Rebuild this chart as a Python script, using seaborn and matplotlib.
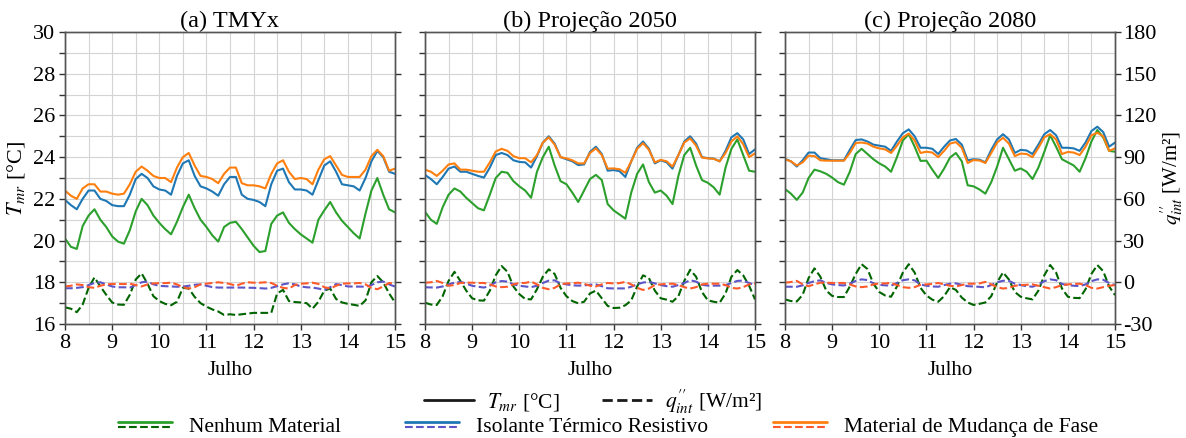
import numpy as np
import pandas as pd
import matplotlib
matplotlib.use("Agg")
import matplotlib.pyplot as plt
import seaborn as sns
from matplotlib.lines import Line2D
from matplotlib.legend_handler import HandlerBase
from matplotlib.ticker import MultipleLocator

# ---------------- data (3-hourly, 8 to 15 July) ----------------
time = np.arange(8.0, 15.0001, 0.125)

materials = ["Nenhum Material", "Isolante Térmico Resistivo", "Material de Mudança de Fase"]
scenarios = ["(a) TMYx", "(b) Projeção 2050", "(c) Projeção 2080"]

# (a) TMYx - radiant mean temperature [°C]
tmr_a_none = [20.1, 19.7, 19.6, 20.7, 21.2, 21.5, 21.0, 20.65, 20.2, 19.95, 19.85, 20.5, 21.4, 22.0, 21.7, 21.2,
              20.85, 20.55, 20.3, 20.9, 21.6, 22.2, 21.55, 21.0, 20.65, 20.25, 19.95, 20.65, 20.85, 20.9, 20.55, 20.15,
              19.75, 19.45, 19.5, 20.8, 21.2, 21.35, 20.85, 20.55, 20.3, 20.1, 19.9, 21.0, 21.45, 21.85, 21.35, 20.95,
              20.65, 20.35, 20.1, 21.3, 22.4, 23.0, 22.2, 21.5, 21.35]
tmr_a_ins = [21.95, 21.7, 21.5, 22.0, 22.4, 22.4, 22.0, 21.9, 21.7, 21.65, 21.65, 22.2, 22.95, 23.2, 23.0, 22.6,
             22.45, 22.4, 22.2, 23.1, 23.7, 23.85, 23.1, 22.6, 22.5, 22.35, 22.15, 22.7, 23.05, 23.05, 22.2, 22.0,
             21.95, 21.85, 21.65, 22.7, 23.35, 23.45, 22.8, 22.45, 22.45, 22.4, 22.2, 22.9, 23.6, 23.8, 23.3, 22.7,
             22.65, 22.6, 22.4, 23.0, 23.8, 24.3, 24.0, 23.3, 23.2]
tmr_a_pcm = [22.4, 22.15, 22.0, 22.5, 22.7, 22.7, 22.35, 22.35, 22.25, 22.2, 22.25, 22.7, 23.3, 23.55, 23.35, 23.1,
             23.0, 23.0, 22.8, 23.5, 24.0, 24.2, 23.6, 23.1, 23.05, 22.95, 22.75, 23.2, 23.5, 23.5, 22.75, 22.65,
             22.65, 22.6, 22.5, 23.2, 23.7, 23.85, 23.3, 22.95, 23.0, 22.95, 22.7, 23.4, 23.9, 24.05, 23.6, 23.15,
             23.05, 23.05, 23.05, 23.4, 24.05, 24.35, 24.05, 23.35, 23.45]
# (a) TMYx - internal heat flux [W/m²]
q_a_none = [-18, -19, -21.5, -16, -4, 3.5, -3, -9, -14.5, -16, -16.2, -9, 2, 6.4, -1, -10,
            -13.5, -15.5, -16.5, -14, -4, -4.5, -10.5, -15, -17.5, -19.5, -21, -23.5, -23, -23.5, -23, -22.5,
            -22, -22, -22, -22, -8, -5.5, -13.5, -14.2, -14.5, -15, -19, -14, -6, -4.5, -12, -14.5,
            -15.5, -16.2, -17, -13, 0, 4.5, 0, -8, -14.5]
q_a_ins = [-4.3, -4.3, -4.0, -3.5, -2, -0.5, 0, -1.5, -3, -3.6, -3.6, -3.8, -2, 0, 0.5, -1.5,
           -2.6, -2.8, -3.0, -3.2, -3.1, -2.5, -1.8, -1.5, -2.5, -3.5, -3.8, -3.8, -3.8, -3.8, -3.8, -3.9,
           -4.0, -4.2, -4.5, -4.0, -2.8, -1.5, -0.7, -1.5, -3.0, -3.6, -3.8, -4.5, -5.5, -3.5, -1.3, -2,
           -3.0, -3.1, -3.1, -3.2, -2, 0, 0.5, -1.5, -3.1]
q_a_pcm = [-3, -2.5, -1.5, -2, -3.5, -4, -2.5, -1.5, -1.2, -1.2, -1.3, -1.0, -2.0, -3.0, -1.5, -0.8,
           -0.6, -0.6, -0.3, -1.5, -3.5, -4.5, -3.5, -1.5, -1.0, -0.5, 0, -0.5, -1.2, -2.5, -1.0, 0,
           -0.3, -0.3, 0, -0.5, -2.5, -4.0, -4.5, -2.0, -1.0, -0.8, -0.3, -1.2, -3.5, -4.5, -2.5, -1.0,
           -0.8, -0.8, -0.5, -1.5, -4.0, -5.0, -3.0, -0.5, -1.0]

# (b) Projeção 2050
tmr_b_none = [21.38, 21.0, 20.8, 21.6, 22.2, 22.5, 22.35, 22.05, 21.8, 21.55, 21.45, 22.2, 23.0, 23.3, 23.25, 22.85,
              22.6, 22.4, 22.05, 23.3, 24.0, 24.5, 23.6, 22.85, 22.7, 22.3, 21.85, 22.4, 22.95, 23.15, 22.9, 21.75,
              21.45, 21.25, 21.05, 22.3, 23.2, 23.65, 22.8, 22.3, 22.4, 22.15, 21.75, 23.1, 24.1, 24.45, 23.6, 22.9,
              22.77, 22.55, 22.2, 23.5, 24.4, 24.85, 24.1, 23.35, 23.3]
tmr_b_ins = [23.15, 22.95, 22.7, 23.05, 23.45, 23.55, 23.3, 23.3, 23.2, 23.1, 23.02, 23.5, 24.1, 24.2, 24.1, 23.85,
             23.77, 23.75, 23.5, 24.05, 24.7, 25.0, 24.65, 24.0, 23.9, 23.8, 23.62, 23.65, 24.25, 24.5, 24.15, 23.35,
             23.38, 23.33, 23.05, 23.8, 24.45, 24.75, 24.4, 23.7, 23.85, 23.75, 23.45, 24.1, 24.75, 25.0, 24.65, 24.0,
             23.95, 23.93, 23.8, 24.3, 24.95, 25.15, 24.85, 24.15, 24.37]
tmr_b_pcm = [23.4, 23.3, 23.1, 23.35, 23.65, 23.7, 23.4, 23.4, 23.35, 23.3, 23.3, 23.75, 24.27, 24.4, 24.3, 24.05,
             23.95, 23.95, 23.75, 24.1, 24.7, 24.95, 24.6, 24.0, 23.94, 23.85, 23.7, 23.7, 24.2, 24.42, 24.1, 23.45,
             23.46, 23.42, 23.25, 23.8, 24.4, 24.67, 24.35, 23.75, 23.87, 23.8, 23.55, 24.1, 24.7, 24.9, 24.55, 23.98,
             23.94, 23.92, 23.8, 24.2, 24.75, 25.0, 24.62, 24.0, 24.18]
q_b_none = [-14.7, -16, -16.3, -10, 1, 7.5, 1, -6, -11.5, -13, -13.2, -6, 5, 11.7, 7.5, -3,
            -8.5, -12, -12.3, -5, 4, 9.3, 6, -4, -10, -13.5, -15.1, -14, -8, -6, -11.5, -17,
            -18.5, -18.3, -16.5, -13, -3, 5, 3, -6, -11.5, -12.5, -14, -10, 1, 9, 4, -7,
            -13, -14, -14.7, -8, 4, 8.8, 5, -2.5, -12.3]
q_b_ins = [-3.6, -3.7, -3.8, -3.0, -1.5, -0.3, 0.3, -1.0, -2.5, -3.2, -3.8, -2.5, 0, 0.9, 0.5, -1.5,
           -2.5, -3.0, -3.5, -2.5, -0.5, 1.2, 1.4, -0.8, -1.5, -2.2, -2.4, -2.2, -1.8, -1.5, -2.8, -4.3,
           -4.4, -4.4, -4.4, -3.2, -1.5, -0.2, 0.3, -0.8, -2.0, -2.8, -3.2, -2.0, -0.5, 1.5, 0.5, -1.8,
           -2.4, -2.4, -2.4, -2.0, -0.5, 1.0, 1.2, -0.5, -2.0]
q_b_pcm = [-0.3, 0, 1.0, -0.5, -2.5, -2.0, -0.5, -0.3, -0.3, -0.5, -0.5, -1.5, -3.0, -3.5, -3.2, -1.5,
           -0.5, -0.5, 0.5, -1.5, -4.0, -5.0, -4.0, -1.5, -0.8, -0.7, -0.3, -1.0, -2.5, -3.0, -1.5, -0.5,
           -0.8, -0.6, 0.3, -1.5, -4.0, -5.5, -4.5, -2.0, -1.5, -1.2, -1.0, -2.0, -3.5, -4.5, -3.5, -1.5,
           -1.0, -1.0, -1.0, -2.0, -4.0, -4.5, -3.5, -1.5, -0.8]

# (c) Projeção 2080
tmr_c_none = [22.47, 22.25, 21.95, 22.3, 23.0, 23.4, 23.32, 23.2, 23.02, 22.8, 22.68, 23.3, 24.15, 24.4, 24.15, 23.9,
              23.7, 23.55, 23.3, 24.0, 24.8, 25.1, 24.5, 23.82, 23.83, 23.4, 23.0, 23.45, 23.98, 24.2, 23.8, 22.65,
              22.6, 22.45, 22.25, 22.8, 23.55, 24.45, 23.9, 23.35, 23.46, 23.3, 22.95, 23.5, 24.25, 25.05, 24.5, 23.9,
              23.75, 23.6, 23.3, 23.95, 24.75, 25.3, 24.95, 24.3, 24.26]
tmr_c_ins = [23.92, 23.8, 23.55, 23.85, 24.22, 24.22, 23.95, 23.9, 23.85, 23.85, 23.85, 24.35, 24.82, 24.85, 24.75, 24.6,
             24.55, 24.5, 24.3, 24.75, 25.15, 25.33, 25.0, 24.45, 24.45, 24.4, 24.15, 24.5, 24.8, 24.87, 24.6, 23.85,
             23.9, 23.88, 23.75, 24.35, 24.85, 25.1, 24.85, 24.2, 24.35, 24.32, 24.15, 24.6, 25.1, 25.3, 25.05, 24.45,
             24.45, 24.42, 24.3, 24.7, 25.25, 25.46, 25.2, 24.5, 24.7]
tmr_c_pcm = [23.89, 23.8, 23.6, 23.75, 24.07, 24.05, 23.85, 23.83, 23.83, 23.83, 23.83, 24.2, 24.68, 24.7, 24.65, 24.5,
             24.42, 24.37, 24.2, 24.55, 24.95, 25.13, 24.8, 24.2, 24.26, 24.22, 24.0, 24.3, 24.65, 24.72, 24.45, 23.72,
             23.86, 23.84, 23.72, 24.2, 24.7, 24.93, 24.65, 24.05, 24.17, 24.15, 24.0, 24.45, 24.95, 25.1, 24.85, 24.15,
             24.25, 24.22, 24.1, 24.5, 25.05, 25.17, 25.0, 24.3, 24.42]
q_c_none = [-12.3, -13.5, -13.8, -9, 3, 10, 4, -6, -9.8, -10.6, -10.6, -3, 6, 13, 9.5, -1,
            -7, -9.5, -10.4, -3, 7, 13, 7, -4, -9.5, -12.5, -14, -10, -3.5, -5.5, -11, -14.5,
            -16.3, -15.5, -14.5, -10, 0, 7.1, 2, -7, -10.4, -11.5, -12.3, -6, 5, 12.4, 7, -4.5,
            -10.4, -11.2, -11.4, -5, 6, 12.4, 8, -3, -9.2]
q_c_ins = [-3.2, -3.2, -3.2, -2.2, -0.5, 0.8, 1.4, -0.5, -1.5, -2.0, -2.3, -1.0, 1.0, 2.1, 1.6, -0.8,
           -1.8, -2.2, -2.4, -0.5, 1.5, 2.1, 1.4, -1.5, -2.5, -3.0, -3.2, -2.0, -1.0, -0.8, -1.8, -2.8,
           -3.0, -3.3, -3.6, -2.0, 0, 1.1, 1.0, -1.0, -2.0, -2.8, -3.2, -1.5, 0.8, 2.1, 1.5, -1.2,
           -2.0, -2.5, -2.7, -1.5, 0.8, 2.1, 1.8, -0.5, -2.0]
q_c_pcm = [-0.3, 0.2, 1.0, -1.5, -2.8, -1.5, -0.3, -0.3, -0.5, -0.5, -0.5, -1.5, -3.0, -3.5, -3.0, -1.5,
           -0.8, -0.8, -0.5, -2.0, -3.5, -4.0, -3.5, -1.8, -1.5, -1.2, -0.5, -1.5, -2.5, -3.0, -2.0, -1.0,
           -1.0, -0.8, 0.3, -1.5, -3.5, -4.5, -4.0, -2.5, -2.0, -1.8, -1.5, -2.5, -3.5, -4.5, -3.5, -2.0,
           -1.5, -1.2, -1.0, -2.0, -4.0, -4.5, -3.5, -2.5, -2.0]

tmr_series = {scenarios[0]: [tmr_a_none, tmr_a_ins, tmr_a_pcm],
              scenarios[1]: [tmr_b_none, tmr_b_ins, tmr_b_pcm],
              scenarios[2]: [tmr_c_none, tmr_c_ins, tmr_c_pcm]}
q_series = {scenarios[0]: [q_a_none, q_a_ins, q_a_pcm],
            scenarios[1]: [q_b_none, q_b_ins, q_b_pcm],
            scenarios[2]: [q_c_none, q_c_ins, q_c_pcm]}

rows = []
for sc in scenarios:
    for m, vals in zip(materials, tmr_series[sc]):
        for t, v in zip(time, vals):
            rows.append((sc, m, "Tmr", t, v))
    for m, vals in zip(materials, q_series[sc]):
        for t, v in zip(time, vals):
            rows.append((sc, m, "q", t, v))
df = pd.DataFrame(rows, columns=["scenario", "material", "var", "time", "value"])

solid_colors = {"Nenhum Material": "#2ca02c", "Isolante Térmico Resistivo": "#1f77b4",
                "Material de Mudança de Fase": "#ff7f0e"}
dash_colors = {"Nenhum Material": "#006400", "Isolante Térmico Resistivo": "#5b55c8",
               "Material de Mudança de Fase": "#ff5a2a"}

# ---------------- styling ----------------
sns.set_theme(style="white")
plt.rcParams["font.family"] = ["Liberation Serif", "DejaVu Serif"]
plt.rcParams["mathtext.fontset"] = "stix"
plt.rcParams["font.size"] = 15
plt.rcParams["axes.unicode_minus"] = False
plt.rcParams["text.color"] = "black"
plt.rcParams["axes.labelcolor"] = "black"

fig = plt.figure(figsize=(11.86, 4.38), dpi=100)
W, H = 1186, 438
lefts = [65, 425, 785]
aw, top, bot = 330, 32, 324

for i, sc in enumerate(scenarios):
    ax = fig.add_axes([lefts[i] / W, (H - bot) / H, aw / W, (bot - top) / H])
    ax2 = ax.twinx()
    sub = df[df.scenario == sc]
    sns.lineplot(data=sub[sub["var"] == "Tmr"], x="time", y="value", hue="material",
                 palette=solid_colors, lw=1.5, ax=ax, legend=False)
    sns.lineplot(data=sub[sub["var"] == "q"], x="time", y="value", hue="material",
                 palette=dash_colors, lw=1.5, ax=ax2, legend=False)
    for l in ax2.get_lines():
        l.set_linestyle("--")

    ax.set_xlim(8, 15)
    ax.set_ylim(16, 30)
    ax2.set_ylim(-30, 180)
    ax.xaxis.set_major_locator(MultipleLocator(1))
    ax.xaxis.set_minor_locator(MultipleLocator(0.5))
    ax.yaxis.set_major_locator(MultipleLocator(2))
    ax.yaxis.set_minor_locator(MultipleLocator(1))
    ax2.yaxis.set_major_locator(MultipleLocator(30))
    ax.grid(which="both", color="#d4d4d4", lw=0.8)
    ax.set_axisbelow(True)

    ax.tick_params(axis="both", which="major", direction="out", length=4, width=1,
                   color="#333333", labelcolor="black", labelsize=16, bottom=True, left=True, pad=3)
    ax.tick_params(axis="y", which="minor", direction="out", length=4, width=1,
                   color="#333333", left=True)
    ax.tick_params(axis="x", which="minor", length=0)
    ax2.tick_params(axis="y", direction="out", length=4, width=1, color="#333333",
                    labelcolor="black", labelsize=16, right=True, pad=2)
    for a in (ax, ax2):
        for s in a.spines.values():
            s.set_color("#555555")
            s.set_linewidth(1.0)

    ax.set_title(sc, fontsize=17.5, pad=3)
    ax.set_xlabel("Julho", fontsize=15, labelpad=6)
    ax.set_ylabel("")
    ax2.set_ylabel("")
    if i == 0:
        ax.set_ylabel("$T_{mr}$ [°C]", fontsize=16, labelpad=4)
    else:
        ax.tick_params(axis="y", labelleft=False)
    if i == 2:
        ax2.set_ylabel(r"$q_{int}^{\prime\prime}$ [W/m²]", fontsize=15, labelpad=1)
    else:
        ax2.tick_params(axis="y", labelright=False)


class PairHandler(HandlerBase):
    def create_artists(self, legend, orig_handle, xdescent, ydescent, width, height, fontsize, trans):
        hs, hd = orig_handle
        x0, x1 = -xdescent, -xdescent + width
        yc = -ydescent + height / 2
        off = height * 0.18
        l1 = Line2D([x0, x1], [yc + off, yc + off], color=hs.get_color(), lw=2, ls="-")
        l2 = Line2D([x0, x1], [yc - off, yc - off], color=hd.get_color(), lw=1.5, ls="--")
        l1.set_transform(trans)
        l2.set_transform(trans)
        return [l1, l2]


leg1 = fig.legend(handles=[Line2D([], [], color="k", lw=2), Line2D([], [], color="k", lw=2, ls="--")],
                  labels=["$T_{mr}$ [°C]", r"$q_{int}^{\prime\prime}$ [W/m²]"],
                  loc="center", bbox_to_anchor=(0.5, 1 - 402 / H), ncol=2, frameon=False,
                  fontsize=15.5, handlelength=2.3, columnspacing=2.0, handletextpad=0.6,
                  borderpad=0, borderaxespad=0)
pairs = [(Line2D([], [], color=solid_colors[m]), Line2D([], [], color=dash_colors[m])) for m in materials]
leg2 = fig.legend(handles=pairs, labels=materials, handler_map={tuple: PairHandler()},
                  loc="center", bbox_to_anchor=(608 / W, 1 - 427 / H), ncol=3, frameon=False,
                  fontsize=15.5, handlelength=2.5, columnspacing=3.0, handletextpad=0.8,
                  borderpad=0, borderaxespad=0)

fig.savefig("out.png", dpi=100)
